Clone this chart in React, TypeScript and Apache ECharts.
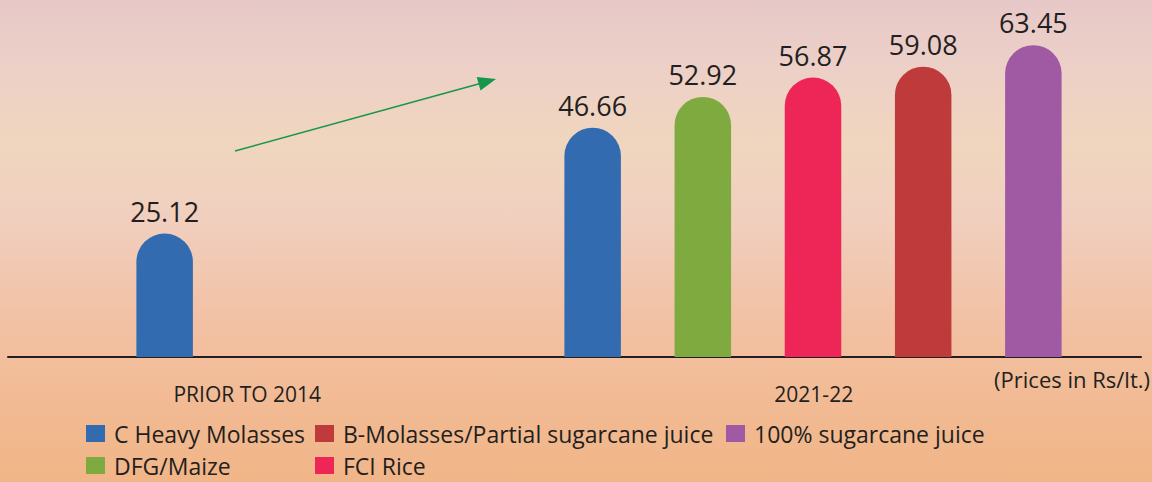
import React, { useEffect, useRef } from "react";
import * as echarts from "echarts";

const periods = ["PRIOR TO 2014", "2021-22"];
const cHeavyMolasses = [25.12, 46.66];
const dfgMaize = [null, 52.92];
const fciRice = [null, 56.87];
const bMolasses = [null, 59.08];
const sugarcaneJuice = [null, 63.45];
const unitNote = "(Prices in Rs/lt.)";

const NAMES = {
  c: "C Heavy Molasses",
  b: "B-Molasses/Partial sugarcane juice",
  s: "100% sugarcane juice",
  d: "DFG/Maize",
  f: "FCI Rice",
};

const COLORS = {
  c: "#336BB0",
  d: "#7FAA40",
  f: "#EE2657",
  b: "#BE3A3B",
  s: "#A05AA4",
};

const FONT = "'Open Sans', 'Noto Sans', sans-serif";
const INK = "#231F20";

export default function App() {
  const ref = useRef<HTMLDivElement>(null);

  useEffect(() => {
    if (!ref.current) return;
    const chart = echarts.init(ref.current, undefined, { renderer: "svg" });

    const barW = 56.5;
    const mkSeries = (key: keyof typeof NAMES, data: (number | null)[]) => ({
      type: "bar",
      name: NAMES[key],
      xAxisIndex: 1,
      yAxisIndex: 1,
      data,
      barWidth: barW,
      barGap: "95%",
      clip: false,
      itemStyle: { color: COLORS[key], borderRadius: [barW / 2, barW / 2, 0, 0] },
      label: {
        show: true,
        position: "top",
        distance: 9,
        fontFamily: FONT,
        fontSize: 27,
        color: INK,
        formatter: (p: any) => (p.value == null ? "" : Number(p.value).toFixed(2)),
      },
    });

    const mkLegend = (key: keyof typeof NAMES, left: number, top: number) => ({
      data: [NAMES[key]],
      left,
      top,
      padding: 0,
      icon: "rect",
      itemWidth: 19,
      itemHeight: 17,
      selectedMode: false,
      textStyle: {
        fontFamily: FONT,
        fontSize: 23,
        lineHeight: 22,
        color: INK,
        padding: [0, 0, 0, 4],
      },
    });

    chart.setOption({
      animation: false,
      grid: [
        { left: 8, width: 1133, top: 13, height: 344 },
        { left: 171, width: 856, top: 13, height: 344 },
      ],
      xAxis: [
        {
          type: "category",
          gridIndex: 0,
          data: periods,
          axisLine: { lineStyle: { color: INK, width: 2 } },
          axisTick: { show: false },
          axisLabel: {
            fontFamily: FONT,
            fontSize: 21,
            color: INK,
            margin: 26,
            padding: [0, 88, 0, 0],
          },
        },
        { type: "category", gridIndex: 1, data: periods, show: false },
      ],
      yAxis: [
        { type: "value", gridIndex: 0, min: 0, max: 70, show: false },
        { type: "value", gridIndex: 1, min: 0, max: 70, show: false },
      ],
      legend: [
        mkLegend("c", 86, 422),
        mkLegend("b", 315, 422),
        mkLegend("s", 726, 422),
        mkLegend("d", 86, 454),
        mkLegend("f", 315, 454),
      ],
      series: [
        mkSeries("c", cHeavyMolasses),
        mkSeries("d", dfgMaize),
        mkSeries("f", fciRice),
        mkSeries("b", bMolasses),
        mkSeries("s", sugarcaneJuice),
      ],
      graphic: [
        {
          type: "text",
          right: 2,
          top: 368,
          style: { text: unitNote, fontFamily: FONT, fontSize: 22, fill: INK },
        },
        {
          type: "line",
          shape: { x1: 235, y1: 151, x2: 482, y2: 83 },
          style: { stroke: "#16964A", lineWidth: 1.6 },
        },
        {
          type: "polygon",
          shape: { points: [[496, 79], [480.5, 90.5], [476.7, 77.1]] },
          style: { fill: "#16964A" },
        },
      ],
    });

    return () => chart.dispose();
  }, []);

  return (
    <div
      ref={ref}
      style={{
        position: "fixed",
        left: 0,
        top: 0,
        width: 1152,
        height: 482,
        background:
          "linear-gradient(180deg, #E7C8C8 0%, #ECCFC8 12%, #F0D6BE 30%, #F1CFBF 45%, #F2C2A6 65%, #F2BB95 82%, #F1B587 100%)",
      }}
    />
  );
}
